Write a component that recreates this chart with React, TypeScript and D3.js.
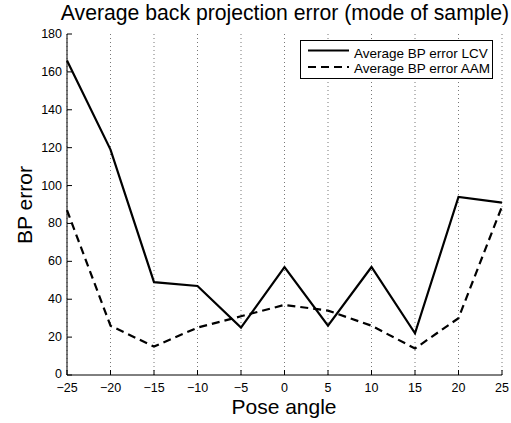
import React from "react";
import * as d3 from "d3";

const poseAngles = [-25, -20, -15, -10, -5, 0, 5, 10, 15, 20, 25];
const errorLCV = [166, 119, 49, 47, 25, 57, 26, 57, 22, 94, 91];
const errorAAM = [87, 26, 15, 25, 31, 37, 34, 26, 14, 30, 89];
const xTicks = [-25, -20, -15, -10, -5, 0, 5, 10, 15, 20, 25];
const yTicks = [0, 20, 40, 60, 80, 100, 120, 140, 160, 180];
const seriesNames = ["Average BP error LCV", "Average BP error AAM"];

const W = 511;
const H = 423;
const margin = { left: 67, right: 9, top: 34, bottom: 48 };

export default function App() {
  const x = d3.scaleLinear().domain([-25, 25]).range([margin.left, W - margin.right]);
  const y = d3.scaleLinear().domain([0, 180]).range([H - margin.bottom, margin.top]);
  const line = d3
    .line<number>()
    .x((_, i) => x(poseAngles[i]))
    .y((d) => y(d));

  const font = "Liberation Sans, Arial, Helvetica, sans-serif";
  const x0 = x(-25);
  const yBase = y(0);

  return (
    <svg
      width={W}
      height={H}
      style={{ position: "absolute", left: 0, top: 0, background: "#fff" }}
      fontFamily={font}
    >
      <rect width={W} height={H} fill="#fff" />
      {/* vertical dotted grid */}
      {xTicks.map((t) => (
        <line
          key={"g" + t}
          x1={x(t)}
          x2={x(t)}
          y1={y(180)}
          y2={yBase}
          stroke="#777"
          strokeWidth={1}
          strokeDasharray="1,3"
        />
      ))}
      {/* axes */}
      <line x1={x0} x2={x0} y1={y(180)} y2={yBase} stroke="#000" strokeWidth={1} />
      <line x1={x0} x2={x(25)} y1={yBase} y2={yBase} stroke="#000" strokeWidth={1} />
      {yTicks.map((t) => (
        <g key={"y" + t}>
          <line x1={x0} x2={x0 + 5} y1={y(t)} y2={y(t)} stroke="#000" />
          <text x={x0 - 5} y={y(t) + (t === 0 ? 3 : 4)} fontSize={12.5} textAnchor="end" fill="#000">
            {t}
          </text>
        </g>
      ))}
      {xTicks.map((t) => (
        <g key={"x" + t}>
          <line x1={x(t)} x2={x(t)} y1={yBase} y2={yBase - 5} stroke="#000" />
          <text x={x(t)} y={yBase + 17} fontSize={12.5} textAnchor="middle" fill="#000">
            {t < 0 ? "\u2212" + Math.abs(t) : t}
          </text>
        </g>
      ))}
      {/* data series */}
      <path d={line(errorLCV) ?? ""} fill="none" stroke="#000" strokeWidth={2.2} strokeLinejoin="miter" />
      <path d={line(errorAAM) ?? ""} fill="none" stroke="#000" strokeWidth={2.2} strokeDasharray="8,5" />
      {/* legend */}
      <g>
        <rect x={300.5} y={40.5} width={192} height={38} fill="#fff" stroke="#000" strokeWidth={1} />
        <line x1={308} x2={349} y1={50.5} y2={50.5} stroke="#000" strokeWidth={2.2} />
        <line x1={308} x2={349} y1={67} y2={67} stroke="#000" strokeWidth={2.2} strokeDasharray="8,5" />
        <text x={354} y={57.5} fontSize={13.5} fill="#000">{seriesNames[0]}</text>
        <text x={354} y={72.5} fontSize={13.5} fill="#000">{seriesNames[1]}</text>
      </g>
      {/* titles */}
      <text x={285} y={20} fontSize={21.2} textAnchor="middle" fill="#000">
        Average back projection error (mode of sample)
      </text>
      <text x={284} y={414} fontSize={21} textAnchor="middle" fill="#000">
        Pose angle
      </text>
      <text
        transform="translate(32,205) rotate(-90)"
        fontSize={21}
        textAnchor="middle"
        fill="#000"
      >
        BP error
      </text>
    </svg>
  );
}
